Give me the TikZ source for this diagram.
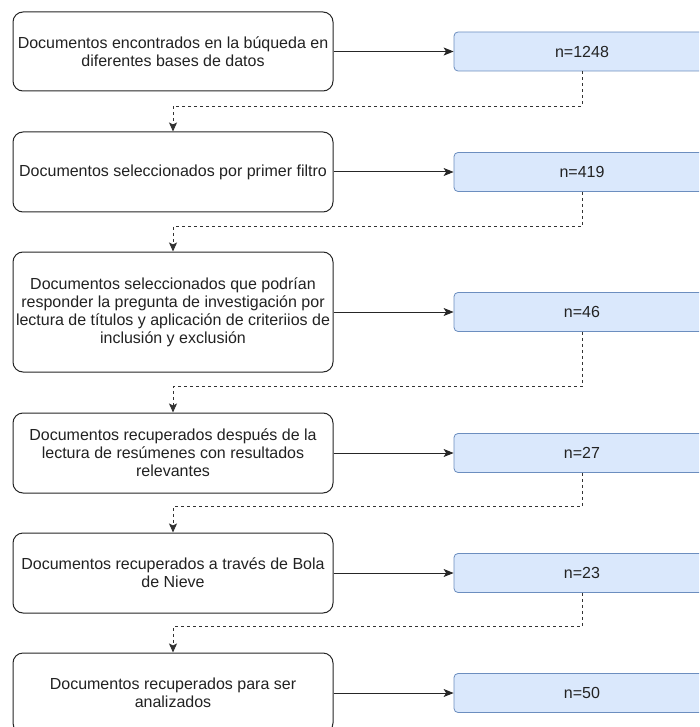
\documentclass[tikz,border=0pt]{standalone}
\usepackage{fontspec}
\setmainfont{Liberation Sans}
\usetikzlibrary{arrows.meta}
\definecolor{countfill}{HTML}{DAE8FC}
\definecolor{countline}{HTML}{6C8EBF}
\definecolor{inktext}{HTML}{222222}
\begin{document}
\begin{tikzpicture}[x=1pt,y=-1pt,
  stepbox/.style={draw=black!85, line width=1pt, rounded corners=10pt, fill=white,
    minimum width=320pt, align=center, inner sep=0pt, text=inktext,
    font=\fontsize{16}{18}\selectfont},
  countbox/.style={draw=countline, line width=0.8pt, rounded corners=4pt, fill=countfill,
    minimum width=256pt, minimum height=39pt, inner sep=0pt, text=inktext,
    font=\fontsize{16}{18}\selectfont},
  solidlink/.style={draw=black!85, line width=1pt, -{Stealth[length=10pt,width=8pt,inset=2.5pt]}},
  dashlink/.style={draw=black!80, line width=1pt, dash pattern=on 3pt off 3pt,
    -{Stealth[length=9pt,width=8pt,inset=2pt]}}
]
\useasboundingbox (0,0) rectangle (699,727);
\clip (0,0) rectangle (699,727);

% left column: selection steps
\node[stepbox, minimum height=79pt]  (b1) at (173,51.5) {Documentos encontrados en la búqueda en\\diferentes bases de datos};
\node[stepbox, minimum height=80pt]  (b2) at (173,172)  {Documentos seleccionados por primer filtro};
\node[stepbox, minimum height=120pt] (b3) at (173,312)  {Documentos seleccionados que podrían\\responder la pregunta de investigación por\\lectura de títulos y aplicación de criteriios de\\inclusión y exclusión};
\node[stepbox, minimum height=80pt]  (b4) at (173,453)  {Documentos recuperados después de la\\lectura de resúmenes con resultados\\relevantes};
\node[stepbox, minimum height=80pt]  (b5) at (173,573)  {Documentos recuperados a través de Bola\\de Nieve};
\node[stepbox, minimum height=80pt]  (b6) at (173,693)  {Documentos recuperados para ser\\analizados};

% right column: document counts
\node[countbox] (n1) at (582,51.5) {n=1248};
\node[countbox] (n2) at (582,172)  {n=419};
\node[countbox] (n3) at (582,312)  {n=46};
\node[countbox] (n4) at (582,453)  {n=27};
\node[countbox] (n5) at (582,573)  {n=23};
\node[countbox] (n6) at (582,693)  {n=50};

% step -> count
\foreach \i in {1,...,6}
  \draw[solidlink] (b\i.east) -- (b\i.east -| n\i.west);

% count -> next step
\draw[dashlink] (n1.south) |- ([yshift=25pt]b2.north) -- (b2.north);
\draw[dashlink] (n2.south) |- ([yshift=25pt]b3.north) -- (b3.north);
\draw[dashlink] (n3.south) |- ([yshift=26pt]b4.north) -- (b4.north);
\draw[dashlink] (n4.south) |- ([yshift=26pt]b5.north) -- (b5.north);
\draw[dashlink] (n5.south) |- ([yshift=26pt]b6.north) -- (b6.north);
\end{tikzpicture}
\end{document}
